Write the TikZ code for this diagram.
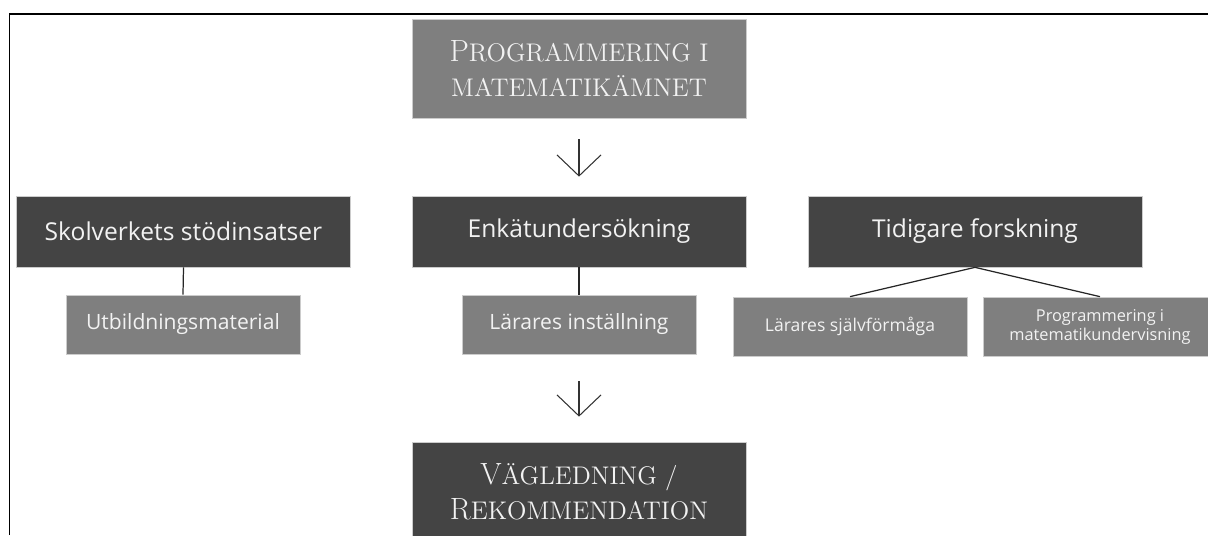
\documentclass[tikz,border=0pt]{standalone}
\usepackage{fontspec}
\newfontfamily\boxsans{Open Sans}
\usetikzlibrary{arrows.meta}
\definecolor{boxdark}{HTML}{444444}
\definecolor{boxgray}{HTML}{7F7F7F}
\definecolor{boxtext}{HTML}{F2F2F2}
% initial capital, then smaller capitals
\newcommand{\capsc}[2]{{\fontsize{17.5}{20}\selectfont #1}{\fontsize{14.5}{20}\selectfont\MakeUppercase{#2}}}

\begin{document}
\begin{tikzpicture}[x=1cm,y=1cm,line width=0.5pt,
  titlebox/.style={fill=boxgray,draw=black!20,line width=0.4pt,text=boxtext,align=center,
    minimum width=6.68cm,minimum height=1.98cm,inner sep=0pt,
    font=\fontsize{14.5}{20}\selectfont},
  darkbox/.style={fill=boxdark,draw=black!20,line width=0.4pt,text=boxtext,
    minimum width=6.68cm,minimum height=1.42cm,inner sep=0pt,
    font=\boxsans\fontsize{14}{17}\selectfont},
  graybox/.style={fill=boxgray,draw=black!20,line width=0.4pt,text=boxtext,align=center,
    minimum width=4.68cm,minimum height=1.18cm,inner sep=0pt,
    font=\boxsans\fontsize{12}{14}\selectfont},
  arr/.style={draw=black!80,line width=0.6pt,-{Straight Barb[length=4.2mm,width=8.8mm]}},
  link/.style={draw=black!85,line width=0.7pt}]
  \useasboundingbox (0,0) rectangle (24.16,10.7);
  \clip (0,0) rectangle (24.16,10.7);

  % frame
  \draw[line width=1.1pt] (0.19,0) -- (0.19,10.42) -- (24.16,10.42);

  % top and bottom
  \node[titlebox] (prog) at (11.58,9.33) {\capsc{P}{rogrammering i}\\\capsc{}{matematikämnet}};
  \node[titlebox,fill=boxdark] (vag) at (11.58,0.87) {\capsc{V}{ägledning /}\\\capsc{R}{ekommendation}};

  % middle row
  \node[darkbox] (skol) at (3.67,6.07) {Skolverkets stödinsatser};
  \node[darkbox] (enk) at (11.58,6.07) {Enkätundersökning};
  \node[darkbox] (tid) at (19.5,6.07) {Tidigare forskning};

  % sub boxes
  \node[graybox] (utb) at (3.66,4.21) {Utbildningsmaterial};
  \node[graybox] (inst) at (11.58,4.21) {Lärares inställning};
  \node[graybox,font=\boxsans\fontsize{10}{12}\selectfont] (sjalv) at (17.0,4.17) {Lärares självförmåga};
  \node[graybox,font=\boxsans\fontsize{9.3}{10.8}\selectfont] (progmat) at (22.0,4.17) {Programmering i\\matematikundervisning};

  % connectors
  \draw[arr,shorten <=4.2mm,shorten >=3.8mm] (prog.south) -- (enk.north);
  \draw[arr,shorten <=5.4mm,shorten >=5mm] (inst.south) -- (vag.north);
  \draw[link] (skol.south) -- (utb.north);
  \draw[link] (enk.south) -- (inst.north);
  \draw[link] (tid.south) -- (sjalv.north);
  \draw[link] (tid.south) -- (progmat.north);
\end{tikzpicture}
\end{document}
